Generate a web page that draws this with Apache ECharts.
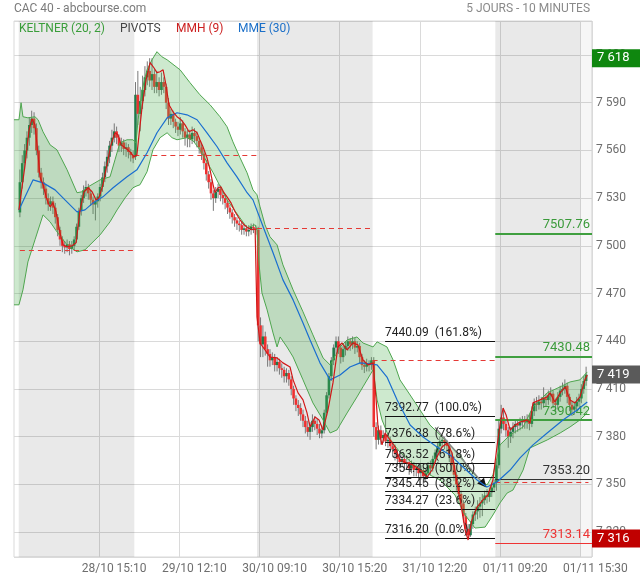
<!DOCTYPE html>
<html><head><meta charset="utf-8">
<script src="https://cdn.jsdelivr.net/npm/echarts@6/dist/echarts.min.js"></script>
<style>html,body{margin:0;padding:0;background:#fff}#c{width:640px;height:580px}</style>
</head><body><div id="c"></div>
<script>
// ---- candles per day: [open, close, low, high]
const day28 = [[7521,7540,7518,7548],[7540,7552,7536,7557],[7552,7560,7548,7564],[7560,7568,7555,7572],[7568,7576,7563,7581],[7576,7580,7571,7585],[7580,7574,7570,7584],[7574,7560,7557,7577],[7560,7546,7543,7563],[7546,7540,7536,7549],[7540,7536,7532,7543],[7536,7530,7526,7539],[7530,7526,7522,7533],[7526,7528,7522,7531],[7528,7524,7520,7531],[7524,7518,7514,7527],[7518,7510,7506,7520],[7510,7504,7500,7512],[7504,7500,7496,7506],[7500,7499,7495,7503],[7499,7501,7496,7504],[7501,7498,7494,7503],[7498,7500,7495,7503],[7500,7504,7497,7506],[7504,7512,7502,7514],[7512,7522,7510,7524],[7522,7530,7519,7532],[7530,7535,7527,7538],[7535,7537,7531,7541],[7537,7533,7529,7539],[7533,7529,7525,7535],[7529,7526,7520,7531],[7526,7528,7516,7530],[7528,7531,7524,7533],[7531,7537,7528,7539],[7537,7543,7534,7546],[7543,7550,7540,7553],[7550,7556,7546,7560],[7556,7563,7552,7566],[7563,7568,7559,7573],[7568,7572,7565,7577],[7572,7568,7564,7575],[7568,7563,7559,7570],[7563,7565,7559,7568],[7565,7561,7557,7567],[7561,7562,7556,7565],[7562,7559,7555,7564],[7559,7557,7553,7561],[7557,7555,7552,7560]];
const day29 = [[7556,7595,7554,7603],[7595,7583,7576,7610],[7583,7591,7572,7600],[7591,7598,7586,7607],[7598,7606,7594,7613],[7606,7610,7601,7616],[7610,7604,7600,7618],[7604,7608,7598,7618],[7608,7600,7596,7611],[7600,7603,7596,7610],[7603,7598,7594,7606],[7598,7603,7595,7609],[7603,7600,7596,7606],[7600,7590,7586,7602],[7590,7580,7576,7593],[7580,7583,7576,7586],[7583,7578,7574,7585],[7578,7575,7571,7580],[7575,7573,7569,7578],[7573,7577,7570,7581],[7577,7572,7568,7579],[7572,7568,7563,7574],[7568,7570,7562,7573],[7570,7567,7562,7573],[7567,7571,7564,7575],[7571,7569,7565,7574],[7569,7566,7562,7572],[7566,7562,7558,7568],[7562,7558,7554,7564],[7558,7552,7548,7560],[7552,7545,7541,7554],[7545,7540,7536,7547],[7540,7533,7529,7542],[7533,7530,7522,7535],[7530,7534,7527,7537],[7534,7536,7530,7539],[7536,7532,7528,7538],[7532,7530,7526,7534],[7530,7527,7523,7532],[7527,7524,7520,7529],[7524,7521,7517,7526],[7521,7518,7514,7523],[7518,7516,7512,7520],[7516,7514,7510,7518],[7514,7513,7509,7516],[7513,7510,7507,7515],[7510,7511,7507,7514],[7511,7509,7506,7513],[7509,7510,7506,7513],[7510,7512,7507,7514],[7512,7511,7508,7514],[7511,7510,7507,7513]];
const day30 = [[7510,7450,7440,7512],[7450,7438,7430,7455],[7438,7443,7430,7450],[7443,7435,7431,7446],[7435,7432,7424,7438],[7432,7428,7424,7435],[7428,7430,7425,7433],[7430,7425,7421,7432],[7425,7427,7421,7430],[7427,7423,7419,7429],[7423,7422,7417,7426],[7422,7418,7414,7424],[7418,7420,7414,7423],[7420,7416,7412,7422],[7416,7410,7406,7418],[7410,7404,7400,7412],[7404,7400,7396,7406],[7400,7398,7393,7403],[7398,7394,7390,7401],[7394,7390,7386,7397],[7390,7386,7382,7393],[7386,7383,7380,7390],[7383,7386,7378,7389],[7386,7390,7383,7394],[7390,7388,7384,7393],[7388,7385,7381,7391],[7385,7382,7379,7388],[7382,7384,7379,7387],[7384,7395,7382,7397],[7395,7406,7393,7408],[7406,7418,7404,7420],[7418,7428,7415,7430],[7428,7436,7425,7438],[7436,7440,7432,7443],[7440,7436,7432,7443],[7436,7430,7426,7438],[7430,7435,7427,7437],[7435,7437,7431,7440],[7437,7440,7434,7443],[7440,7438,7434,7442],[7438,7440,7435,7443],[7440,7436,7432,7442],[7436,7437,7433,7440],[7437,7430,7426,7439],[7430,7425,7422,7432],[7425,7424,7420,7428],[7424,7426,7421,7429],[7426,7425,7421,7428],[7425,7428,7422,7430]];
const day31 = [[7428,7386,7380,7430],[7386,7378,7372,7389],[7378,7384,7375,7387],[7384,7379,7375,7387],[7379,7381,7376,7384],[7381,7377,7374,7393],[7377,7378,7373,7381],[7378,7374,7370,7380],[7374,7372,7368,7377],[7372,7369,7365,7375],[7369,7366,7362,7372],[7366,7364,7360,7369],[7364,7366,7361,7369],[7366,7363,7359,7368],[7363,7364,7360,7367],[7364,7360,7356,7366],[7360,7362,7357,7365],[7362,7359,7355,7364],[7359,7360,7355,7363],[7360,7357,7353,7362],[7357,7359,7353,7362],[7359,7355,7350,7361],[7355,7357,7352,7360],[7357,7362,7354,7364],[7362,7360,7356,7365],[7360,7366,7358,7368],[7366,7370,7363,7372],[7370,7374,7367,7376],[7374,7377,7371,7380],[7377,7378,7373,7381],[7378,7376,7372,7380],[7376,7374,7370,7378],[7374,7368,7364,7376],[7368,7362,7358,7370],[7362,7356,7352,7364],[7356,7350,7346,7358],[7350,7344,7340,7352],[7344,7338,7334,7346],[7338,7330,7326,7340],[7330,7322,7318,7332],[7322,7318,7316.2,7325],[7318,7325,7317,7327],[7325,7331,7322,7333],[7331,7333,7327,7336],[7333,7336,7328,7340],[7336,7338,7329,7342],[7338,7340,7330,7344],[7340,7343,7337,7346],[7343,7342,7338,7347],[7342,7345,7339,7348],[7345,7348,7342,7351],[7348,7351,7345,7353]];
const day01 = [[7351,7362,7346,7365],[7362,7385,7360,7390],[7385,7392,7382,7400],[7392,7388,7384,7398],[7388,7384,7380,7391],[7384,7380,7373,7386],[7380,7383,7376,7386],[7383,7386,7379,7389],[7386,7388,7382,7391],[7388,7387,7383,7391],[7387,7389,7384,7392],[7389,7390,7385,7393],[7390,7389,7385,7393],[7389,7391,7385,7394],[7391,7388,7384,7394],[7388,7396,7386,7399],[7396,7401,7393,7404],[7401,7400,7396,7405],[7400,7402,7397,7406],[7402,7401,7397,7405],[7401,7404,7398,7411],[7404,7403,7399,7407],[7403,7406,7400,7409],[7406,7407,7402,7411],[7407,7401,7398,7409],[7401,7400,7396,7404],[7400,7405,7397,7408],[7405,7409,7402,7412],[7409,7410,7406,7414],[7410,7412,7407,7416],[7412,7405,7401,7414],[7405,7400,7396,7407],[7400,7397,7393,7402],[7397,7399,7394,7402],[7399,7402,7396,7405],[7402,7404,7399,7407],[7404,7410,7401,7413],[7410,7415,7407,7418],[7415,7419,7412,7424]];
const dayStart = [2, 51, 103, 152, 204];   // first bar slot of each session
const dayEnd = [51, 103, 152, 204, 245];
const slotCount = 245;

// ---- indicators [bar position, value]
const kUpper = [[0,7579.3],[2.1,7579.3],[3.0,7590.0],[3.8,7581.2],[5.9,7580.5],[8.9,7581.2],[10.2,7579.3],[12.3,7571.7],[15.3,7563.5],[18.2,7560.4],[22.5,7547.8],[26.7,7533.4],[28.8,7534.0],[31.4,7537.1],[36.5,7541.5],[40.7,7543.4],[42.8,7554.1],[44.9,7564.8],[47.9,7566.7],[50.4,7566.7],[51.7,7564.8],[52.6,7579.3],[54.3,7598.2],[56.4,7610.7],[58.5,7617.0],[60.6,7622.1],[62.7,7618.9],[64.9,7617.0],[70.4,7610.7],[74.6,7602.6],[78.8,7595.0],[83.1,7588.7],[87.3,7581.2],[90.3,7574.9],[92.8,7565.4],[95.8,7555.4],[98.8,7545.9],[101.3,7535.2],[103.0,7532.1],[104.3,7524.5],[106.4,7513.2],[108.5,7505.7],[111.5,7500.6],[114.0,7488.0],[118.3,7472.3],[122.5,7458.5],[126.7,7444.0],[131.0,7429.5],[134.0,7425.1],[138.2,7436.4],[141.2,7440.8],[145.4,7442.7],[147.9,7438.9],[152.2,7436.4],[153.9,7439.6],[158.1,7436.4],[160.7,7428.2],[163.6,7415.7],[167.9,7406.2],[172.1,7396.8],[176.3,7387.3],[180.6,7381.1],[184.8,7374.8],[189.1,7368.5],[193.3,7359.0],[197.5,7352.7],[200.5,7349.6],[203.0,7355.9],[206.0,7374.8],[210.3,7381.1],[215.8,7386.1],[220.0,7398.7],[226.0,7407.5],[231.5,7411.3],[235.7,7414.4],[239.9,7415.7],[243.0,7420.7]];
const kLower = [[0,7462.9],[2.1,7462.9],[3.8,7472.3],[5.9,7489.9],[8.9,7503.8],[12.3,7519.5],[15.3,7515.1],[18.2,7508.8],[22.5,7500.6],[26.7,7496.2],[30.1,7497.5],[36.5,7506.9],[40.7,7515.1],[43.7,7522.6],[47.1,7530.2],[50.4,7536.5],[52.1,7537.7],[53.4,7538.4],[56.4,7546.6],[58.9,7560.4],[61.9,7568.0],[64.9,7571.1],[67.0,7568.0],[69.1,7566.7],[73.3,7568.0],[75.9,7566.1],[78.8,7560.4],[84.4,7546.0],[90.3,7528.9],[95.8,7517.6],[98.8,7511.3],[102.2,7513.2],[103.0,7510.1],[103.9,7488.0],[105.1,7470.4],[107.3,7459.7],[109.8,7445.2],[111.5,7436.4],[112.8,7442.7],[115.7,7436.4],[118.3,7430.1],[122.5,7415.7],[126.7,7401.2],[131.0,7390.5],[134.0,7382.3],[136.9,7384.2],[141.2,7394.9],[145.4,7405.0],[147.9,7411.3],[152.2,7422.0],[153.9,7403.1],[156.0,7390.5],[159.4,7377.9],[163.6,7370.3],[172.1,7359.0],[180.6,7352.7],[186.9,7343.3],[191.2,7330.7],[195.4,7322.5],[199.7,7323.1],[203.0,7330.7],[206.0,7338.3],[209.0,7344.5],[211.5,7346.4],[215.8,7359.0],[218.7,7372.9],[226.0,7377.9],[231.5,7382.3],[235.7,7386.1],[239.9,7390.5],[243.0,7394.9]];
const mme30 = [[2.1,7522.6],[4.7,7530.8],[8.1,7541.5],[12.3,7539.6],[17.4,7535.2],[21.6,7528.9],[26.7,7521.4],[30.1,7522.6],[33.5,7527.0],[37.7,7530.8],[42.0,7536.5],[47.9,7543.4],[52.1,7547.8],[56.4,7558.5],[60.6,7571.1],[64.9,7580.5],[69.1,7583.7],[73.3,7582.4],[77.6,7579.3],[81.8,7571.1],[86.1,7562.3],[90.3,7552.2],[94.5,7543.4],[98.8,7533.4],[101.3,7528.9],[105.6,7512.0],[109.8,7495.6],[114.0,7478.6],[118.3,7466.0],[122.5,7451.5],[125.5,7440.8],[129.7,7426.4],[134.0,7415.7],[138.2,7418.8],[142.4,7423.8],[146.7,7426.4],[150.9,7425.7],[153.9,7425.1],[158.1,7417.5],[162.4,7403.1],[167.9,7387.3],[173.4,7379.8],[179.3,7373.5],[184.8,7368.5],[190.3,7360.9],[196.3,7352.7],[200.5,7348.3],[204.7,7351.5],[210.3,7359.0],[214.5,7366.6],[220.0,7374.8],[226.0,7382.3],[232.7,7390.5],[238.7,7396.8],[243.0,7401.8]];
const mmh9 = [[2.1,7522.6],[4.7,7551.0],[6.4,7573.0],[7.6,7579.9],[8.9,7576.1],[10.2,7557.3],[11.0,7543.4],[12.3,7538.4],[14.0,7528.9],[15.3,7524.5],[16.5,7527.0],[17.8,7521.4],[19.5,7508.2],[20.8,7500.6],[22.5,7499.4],[24.6,7500.0],[26.3,7501.9],[28.0,7522.6],[29.7,7534.0],[31.4,7536.5],[33.1,7534.0],[34.8,7528.9],[36.0,7530.2],[37.7,7538.4],[39.4,7551.0],[41.1,7563.5],[42.8,7571.1],[44.1,7569.8],[45.4,7563.5],[47.1,7561.7],[49.2,7559.1],[50.9,7556.0],[52.1,7557.3],[53.0,7569.8],[54.3,7587.5],[56.0,7604.5],[57.7,7615.2],[59.3,7612.0],[60.6,7608.9],[61.9,7609.5],[63.2,7610.7],[64.4,7601.3],[65.7,7588.7],[67.4,7584.3],[69.1,7581.2],[70.8,7579.3],[72.5,7576.1],[74.2,7571.7],[75.9,7573.0],[77.6,7571.1],[78.8,7566.7],[80.1,7562.3],[81.8,7555.4],[83.1,7547.8],[84.4,7538.4],[85.2,7533.4],[86.5,7536.5],[87.7,7537.1],[89.0,7533.4],[90.3,7530.8],[92.0,7527.0],[93.7,7521.4],[95.8,7516.4],[97.5,7513.2],[99.2,7511.3],[100.9,7510.1],[102.2,7510.7],[103.0,7455.3],[104.3,7438.9],[106.4,7434.5],[108.5,7430.1],[111.5,7429.5],[114.0,7426.4],[117.0,7423.8],[118.3,7415.7],[120.4,7407.5],[122.5,7403.1],[124.2,7394.9],[125.5,7386.1],[127.6,7392.4],[129.3,7390.5],[131.0,7384.2],[133.1,7396.8],[135.2,7413.8],[137.3,7436.4],[139.0,7438.9],[141.2,7434.5],[143.7,7438.9],[145.8,7437.7],[147.9,7428.2],[150.1,7425.1],[152.2,7426.4],[153.5,7403.1],[154.3,7386.1],[156.0,7374.8],[157.3,7382.3],[159.4,7377.9],[161.5,7373.5],[163.6,7365.3],[166.6,7363.4],[169.1,7362.2],[172.1,7359.0],[175.1,7354.6],[177.2,7359.0],[179.3,7367.2],[181.4,7373.5],[183.6,7376.0],[185.7,7369.7],[187.8,7350.8],[189.1,7340.2],[191.2,7321.3],[192.5,7315.0],[194.1,7327.5],[196.3,7335.7],[198.8,7340.2],[200.9,7343.3],[203.0,7352.7],[204.7,7373.5],[206.0,7387.3],[207.3,7398.0],[208.6,7393.6],[210.3,7384.2],[212.4,7387.3],[214.5,7389.2],[217.5,7390.5],[218.7,7388.6],[220.0,7401.2],[223.0,7403.1],[226.0,7405.0],[227.2,7407.5],[229.3,7401.8],[231.5,7407.5],[233.6,7411.3],[235.7,7403.1],[237.8,7401.2],[239.9,7405.0],[242.0,7415.7],[243.0,7418.8]];

// ---- pivots / annotations
const prevClose = [7497.5, 7557, 7511, 7428, 7351];
const pivotLevels = [7507.76, 7430.48, 7390.42, 7353.20, 7313.14];
const pivotKinds = ['g', 'g', 'g', 'k', 'r'];
const fibValues = [7440.09, 7392.77, 7376.38, 7363.52, 7354.49, 7345.45, 7334.27, 7316.20];
const fibPct = ['161.8%', '100.0%', '78.6%', '61.8%', '50.0%', '38.2%', '23.6%', '0.0%'];
const fibRange = [157.3, 203.9];
const arrowLine = [[178.5, 7385.7], [199.0, 7350.2]];
const priceTags = [[7618, '#0f870f'], [7419, '#5a5a5a'], [7316, '#c00000']];

// ---- axis labels
const xTickIdx = [36, 70, 104, 138, 172, 206, 240];
const xTickText = ['28/10 15:10', '29/10 12:10', '30/10 09:10', '30/10 15:20', '31/10 12:20', '01/11 09:20', '01/11 15:30'];

const cats = Array.from({length: slotCount}, (_, i) => String(i));
const candleData = [];
[day28, day29, day30, day31, day01].forEach((d, k) => d.forEach((r, j) => candleData.push([dayStart[k] + j, r[0], r[1], r[2], r[3]])));

const GREEN = '#1f7a4a', RED = '#ee3030';
const fmtK = v => { const s = String(Math.round(v)); return s.slice(0, -3) + ' ' + s.slice(-3); };

const markLines = [];
prevClose.forEach((v, k) => markLines.push([
  {coord: [k === 0 ? 2.5 : dayStart[k], v], lineStyle: {color: '#e53935', type: [5, 4], width: 1}},
  {coord: [k === 4 ? 243.5 : dayEnd[k], v]}]));
pivotLevels.forEach((v, k) => {
  const kind = pivotKinds[k];
  const col = kind === 'g' ? '#3f9f3f' : kind === 'r' ? '#ee3333' : '#333';
  const txt = kind === 'g' ? '#3a9a3a' : kind === 'r' ? '#ee3333' : '#333';
  markLines.push([
    {coord: [dayStart[4], v], lineStyle: {color: col, width: kind === 'g' ? 2 : 1, type: 'solid'},
     label: {show: true, position: 'insideEndTop', formatter: v.toFixed(2), color: txt, fontSize: 13, distance: [2, 2]}},
    {coord: [slotCount, v]}]);
});
fibValues.forEach((v, k) => markLines.push([
  {coord: [fibRange[0], v], lineStyle: {color: '#111', width: 1, type: 'solid'},
   label: {show: true, position: 'insideStartTop', formatter: v.toFixed(2) + '  (' + fibPct[k] + ')', color: '#222', fontSize: 12, distance: [0, 2]}},
  {coord: [fibRange[1], v]}]));
markLines.push([{coord: arrowLine[0], lineStyle: {color: '#888', width: 1.5, type: 'solid'}}, {coord: arrowLine[1]}]);
markLines.push([{coord: [arrowLine[1][0] - 0.6, arrowLine[1][1] + 1.05], lineStyle: {color: '#111', width: 1, type: 'solid'}},
  {coord: arrowLine[1], symbol: 'triangle', symbolSize: 9}]);

const tagLines = priceTags.map(t => ({yAxis: t[0], lineStyle: {color: 'rgba(0,0,0,0)', width: 0},
  label: {show: true, position: 'end', distance: 0, formatter: fmtK(t[0]), color: '#fff', backgroundColor: t[1],
          padding: [3, 12, 2, 5], fontSize: 13}}));

const chart = echarts.init(document.getElementById('c'));
chart.setOption({
  animation: false,
  textStyle: {fontFamily: 'Roboto'},
  grid: {left: 14, right: 48, top: 21, bottom: 23, show: true, borderColor: '#d9d9d9', borderWidth: 1},
  xAxis: [{
    type: 'category', data: cats, boundaryGap: true,
    axisLine: {show: false}, axisTick: {show: false},
    axisLabel: {interval: (i) => xTickIdx.includes(i), formatter: (v, i) => { const k = xTickIdx.indexOf(i); return k >= 0 ? xTickText[k] : ''; },
                color: '#6e6e6e', fontSize: 12, margin: 6, padding: [0, 0, 0, 28]},
    splitLine: {show: true, interval: (i) => xTickIdx.includes(i), lineStyle: {color: '#dadada'}}
  }, {
    type: 'value', min: 0, max: slotCount, show: false
  }],
  yAxis: {
    type: 'value', position: 'right', min: 7304.3, max: 7641.4, splitNumber: 11,
    axisLine: {show: false}, axisTick: {show: false},
    axisLabel: {color: '#6e6e6e', fontSize: 12, margin: 4, showMinLabel: false, showMaxLabel: false, formatter: fmtK, padding: [0, 0, 6, 0]},
    splitLine: {lineStyle: {color: '#dadada'}}
  },
  graphic: [
    {type: 'text', x: 14, y: 9, style: {text: 'CAC 40 - abcbourse.com', fill: '#7a7a7a', font: '12px Roboto', verticalAlign: 'middle'}},
    {type: 'text', x: 590, y: 9, style: {text: '5 JOURS - 10 MINUTES', fill: '#8a8a8a', font: '12px Roboto', align: 'right', verticalAlign: 'middle'}},
    {type: 'text', x: 19, y: 29, z: 100, style: {text: 'KELTNER (20, 2)', fill: '#3a9d3a', font: '12px Roboto', verticalAlign: 'middle'}},
    {type: 'text', x: 120, y: 29, z: 100, style: {text: 'PIVOTS', fill: '#444', font: '12px Roboto', verticalAlign: 'middle'}},
    {type: 'text', x: 176, y: 29, z: 100, style: {text: 'MMH (9)', fill: '#cc2020', font: '12px Roboto', verticalAlign: 'middle'}},
    {type: 'text', x: 238, y: 29, z: 100, style: {text: 'MME (30)', fill: '#1b6fc8', font: '12px Roboto', verticalAlign: 'middle'}}
  ],
  series: [
    {
      type: 'custom', name: 'candles', xAxisIndex: 0, yAxisIndex: 0, z: 2, silent: true,
      data: candleData, encode: {x: 0, y: [1, 2, 3, 4]},
      renderItem: (params, api) => {
        const i = api.value(0), o = api.value(1), c = api.value(2), l = api.value(3), h = api.value(4);
        const pO = api.coord([i, o]), pC = api.coord([i, c]), pL = api.coord([i, l]), pH = api.coord([i, h]);
        const cx = pO[0];
        const top = Math.min(pO[1], pC[1]), bot = Math.max(pO[1], pC[1]);
        return {type: 'group', children: [
          {type: 'line', shape: {x1: cx, y1: pH[1], x2: cx, y2: pL[1]}, style: {stroke: '#6a6a6a', lineWidth: 0.9}},
          {type: 'rect', shape: {x: cx - 1.3, y: top, width: 2.6, height: Math.max(bot - top, 1)}, style: {fill: c >= o ? GREEN : RED}}
        ]};
      }
    },
    {
      type: 'custom', name: 'keltnerFill', xAxisIndex: 1, yAxisIndex: 0, z: 3, silent: true,
      data: [[0, 7500]],
      renderItem: (params, api) => {
        const pts = kUpper.map(p => api.coord(p)).concat(kLower.slice().reverse().map(p => api.coord(p)));
        return {type: 'polygon', shape: {points: pts}, style: {fill: 'rgba(76,175,80,0.28)'}};
      }
    },
    {
      type: 'line', name: 'kUpper', xAxisIndex: 1, data: kUpper, showSymbol: false, silent: true, z: 4,
      lineStyle: {color: '#4ea54e', width: 1},
      markArea: {silent: true, itemStyle: {color: 'rgba(0,0,0,0.085)'},
        data: [[{xAxis: dayStart[0]}, {xAxis: dayEnd[0]}], [{xAxis: dayStart[2]}, {xAxis: dayEnd[2]}], [{xAxis: dayStart[4]}, {xAxis: 240}],
               [{xAxis: 240, itemStyle: {color: 'rgba(0,0,0,0.035)'}}, {xAxis: slotCount}]]}
    },
    {type: 'line', name: 'kLower', xAxisIndex: 1, data: kLower, showSymbol: false, silent: true, z: 4, lineStyle: {color: '#4ea54e', width: 1},
     markLine: {silent: true, symbol: 'none', animation: false, z: 20, data: tagLines}},
    {type: 'line', name: 'MME', xAxisIndex: 1, data: mme30, showSymbol: false, silent: true, z: 5, lineStyle: {color: '#1b6fd0', width: 1.2}},
    {
      type: 'line', name: 'MMH', xAxisIndex: 1, data: mmh9, showSymbol: false, silent: true, z: 6,
      lineStyle: {color: '#d01818', width: 1.2},
      markLine: {silent: true, symbol: 'none', animation: false, label: {show: false}, data: markLines}
    }
  ]
});
</script></body></html>
